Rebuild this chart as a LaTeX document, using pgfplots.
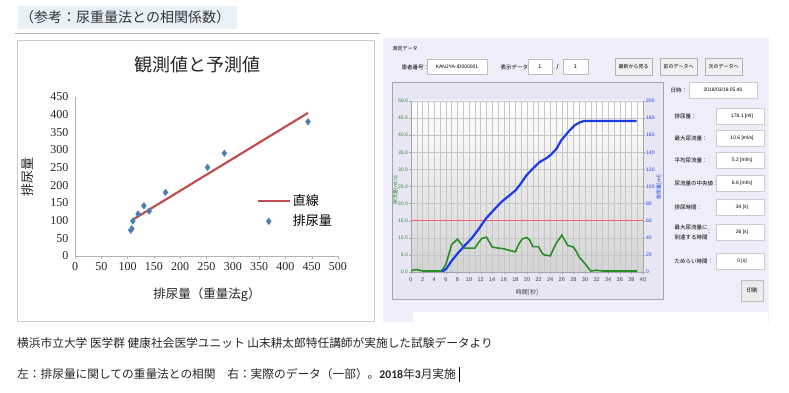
\documentclass[border=0pt]{standalone}
\usepackage{pgfplots}
\pgfplotsset{compat=1.18}
\usepackage{fontspec}
\setmainfont{Liberation Serif}
\newfontfamily\jp{Noto Sans CJK JP}
\newfontfamily\lsans{Liberation Sans}
\newfontfamily\carl{Carlito}
\definecolor{scblue}{RGB}{74,126,187}
\definecolor{scred}{RGB}{192,80,77}
\definecolor{titlebg}{RGB}{233,241,248}
\definecolor{panelbg}{RGB}{237,238,250}
\definecolor{framebg}{RGB}{230,230,245}
\definecolor{flowgreen}{RGB}{40,140,40}
\definecolor{volblue}{RGB}{30,60,230}
\definecolor{limred}{RGB}{240,100,100}
\newcommand{\sm}{\jp\fontsize{5.5}{6}\selectfont}
\pgfplotsset{
  lineleg/.style={legend image code/.code={\draw[##1] (0pt,0pt) -- (32pt,0pt);}},
  markleg/.style={legend image code/.code={\draw[##1] plot coordinates {(11pt,0pt)};}}
}
\begin{document}
\begin{tikzpicture}[x=1pt,y=1pt]
\path[use as bounding box, fill=white] (0,0) rectangle (789,393);
% title
\fill[titlebg] (18,387) rectangle (237,364);
\node[anchor=west, font=\jp\fontsize{14}{14}\selectfont, inner sep=0, text=black!80] at (20,375.5) {（参考：尿重量法との相関係数）};
\draw[gray!60, line width=0.8pt] (15,360) -- (380,360);
\draw[gray!40, line width=0.8pt] (17,353) rectangle (374,72);
% left chart texts
\node[font=\jp\fontsize{18}{18}\selectfont, text=black!85] at (197,328) {観測値と予測値};
\node[font=\jp\fontsize{13}{13}\selectfont, rotate=90, text=black!85] at (28,216) {排尿量};
\node[font=\jp\fontsize{12.5}{12.5}\selectfont, text=black!85] at (207,98) {排尿量（重量法g）};
\begin{axis}[at={(75pt,137pt)}, anchor=south west, scale only axis, width=263pt, height=159pt,
  xmin=0, xmax=500, ymin=0, ymax=450,
  xtick={0,50,...,500}, ytick={0,50,...,450},
  axis x line*=bottom, axis y line*=left,
  axis line style={gray!60}, tick style={gray!60}, major tick length=3pt, tick align=outside,
  ytick style={draw=none},
  tick label style={font=\fontsize{12}{12}\selectfont, text=black!85},
  /pgf/number format/assume math mode=true,
  legend style={at={(0.69,0.40)}, anchor=north west, draw=none, fill=none,
    font=\jp\fontsize{13}{13}\selectfont, row sep=4pt, inner sep=0pt},
  legend cell align=left,
  clip=false]
\addplot[scred, line width=2.2pt, lineleg]
  coordinates {(110,103) (443,405)};
\addlegendentry{直線}
\addplot[only marks, mark=diamond*, mark size=3.3pt, color=scblue, markleg]
  coordinates {(106,73) (108,77) (110,99) (120,119) (131,142) (141,127) (172,180) (252,251) (284,291) (443,380)};
\addlegendentry{排尿量}
\end{axis}
% right panel
\fill[panelbg] (383,355) rectangle (769,71);
\node[anchor=west, font=\jp\fontsize{5}{5}\selectfont] at (389,344) {測定データ};
\node[anchor=west, font=\sm] at (398,326) {患者番号：};
\draw[gray!50, fill=white] (427,334) rectangle (487,319);
\node[font=\lsans\fontsize{5}{6}\selectfont] at (457,326.5) {KANJYA-ID000001};
\node[anchor=west, font=\sm] at (497,326) {表示データ：};
\draw[gray!50, fill=white] (528,334) rectangle (552,319);
\node[font=\lsans\fontsize{5.5}{6}\selectfont] at (540,326.5) {1};
\node[font=\lsans\fontsize{7}{7}\selectfont] at (557.5,326) {/};
\draw[gray!50, fill=white] (563,334) rectangle (588,319);
\node[font=\lsans\fontsize{5.5}{6}\selectfont] at (575.5,326.5) {1};
\draw[gray!60, fill=gray!12] (615,335) rectangle (652,318);
\node[font=\jp\fontsize{5}{5}\selectfont] at (633.5,326.5) {最新から見る};
\draw[gray!60, fill=gray!12] (660,335) rectangle (697,318);
\node[font=\jp\fontsize{5}{5}\selectfont] at (678.5,326.5) {前のデータへ};
\draw[gray!60, fill=gray!12] (705,335) rectangle (742,318);
\node[font=\jp\fontsize{5}{5}\selectfont] at (723.5,326.5) {次のデータへ};
\draw[gray!70, fill=framebg] (392,311) rectangle (663,94);
% value column
\node[anchor=west, font=\sm] at (667,303) {日時：};
\draw[gray!40, fill=white] (689,311) rectangle (757,295);
\node[font=\lsans\fontsize{5}{6}\selectfont] at (723,303) {2018/03/18 05:40};
\node[anchor=west, font=\sm] at (671,277) {排尿量：};
\draw[gray!40, fill=white] (716,285) rectangle (764,269);
\node[font=\lsans\fontsize{5}{6}\selectfont] at (742,277) {176.1 [ml]};
\node[anchor=west, font=\sm] at (671,255) {最大尿流量：};
\draw[gray!40, fill=white] (716,263) rectangle (764,247);
\node[font=\lsans\fontsize{5}{6}\selectfont] at (742,255) {10.6 [ml/s]};
\node[anchor=west, font=\sm] at (671,233) {平均尿流量：};
\draw[gray!40, fill=white] (716,241) rectangle (764,225);
\node[font=\lsans\fontsize{5}{6}\selectfont] at (742,233) {5.2 [ml/s]};
\node[anchor=west, font=\sm] at (671,210) {尿流量の中央値：};
\draw[gray!40, fill=white] (716,218) rectangle (764,202);
\node[font=\lsans\fontsize{5}{6}\selectfont] at (742,210) {6.6 [ml/s]};
\node[anchor=west, font=\sm] at (671,186) {排尿時間：};
\draw[gray!40, fill=white] (716,194) rectangle (764,178);
\node[font=\lsans\fontsize{5}{6}\selectfont] at (742,186) {34 [s]};
\node[anchor=west, font=\sm] at (671,166) {最大尿流量に};
\node[anchor=west, font=\sm] at (671,156) {到達する時間};
\node[font=\sm] at (709,161) {：};
\draw[gray!40, fill=white] (716,169) rectangle (764,153);
\node[font=\lsans\fontsize{5}{6}\selectfont] at (742,161) {26 [s]};
\node[anchor=west, font=\sm] at (671,132) {ためらい時間：};
\draw[gray!40, fill=white] (716,140) rectangle (764,124);
\node[font=\lsans\fontsize{5}{6}\selectfont] at (742,132) {0 [s]};
\draw[gray!50, fill=gray!15] (741,113) rectangle (763,92);
\node[font=\sm] at (752,102.5) {印刷};
\fill[white] (413,81) rectangle (768,71);
% right chart labels
\node[font=\jp\fontsize{5}{5}\selectfont, rotate=90, text=flowgreen] at (395.5,203) {尿流量[ml/s]};
\node[font=\jp\fontsize{5}{5}\selectfont, rotate=90, text=volblue] at (659,206) {排尿量[ml]};
\node[font=\jp\fontsize{6}{6}\selectfont, text=black!75] at (527,101) {時間[秒]};
\begin{axis}[at={(411pt,121pt)}, anchor=south west, scale only axis, width=232pt, height=171pt,
  xmin=0, xmax=40, ymin=0, ymax=50,
  xtick={0,2,...,40}, minor xtick={1,3,...,39}, ytick={0,5,...,50},
  grid=both, major grid style={gray!45, line width=0.4pt}, minor grid style={gray!45, line width=0.4pt},
  axis x line*=bottom, axis y line*=left, axis line style={gray!70, line width=0.5pt},
  tick style={gray!70}, major tick length=2pt, minor tick length=0pt, tick align=outside,
  xticklabel style={font=\lsans\fontsize{5.5}{6}\selectfont, text=black!75},
  yticklabel style={font=\lsans\fontsize{5}{6}\selectfont, text=flowgreen, inner sep=1pt,
    /pgf/number format/.cd, fixed, fixed zerofill, precision=1},
  /pgf/number format/assume math mode=true,
  axis background/.style={top color=white, middle color=black!4, bottom color=black!17}]
\addplot[limred, line width=1pt] coordinates {(0,15) (40,15)};
\addplot[flowgreen, line width=1.6pt] coordinates {(0,0.3)(0.5,0.6)(1,0.7)(1.5,0.5)(2,0.3)(5.3,0.3)(6,2.2)(6.5,5)(7,8)(8,9.6)(8.6,8.3)(9.2,7.0)(11,7.0)(11.6,8.5)(12.2,9.8)(13,10.2)(13.5,8.8)(14,7.3)(15,7.0)(16,6.8)(17,6.3)(18,5.9)(18.6,8.2)(19.2,9.7)(20,10.1)(20.5,9.2)(21,7.4)(22,7.4)(22.6,5.5)(23,5)(24,4.7)(24.5,6.5)(25,8.3)(26,10.8)(26.5,9.3)(27,7.8)(28,7.3)(28.5,6)(29,4.4)(30,2.4)(31,0.3)(32,0.5)(33,0.3)(39,0.3)};
\end{axis}
\begin{axis}[at={(411pt,121pt)}, anchor=south west, scale only axis, width=232pt, height=171pt,
  xmin=0, xmax=40, ymin=0, ymax=200,
  axis x line=none, axis y line*=right, ytick={0,20,...,200},
  axis line style={gray!70, line width=0.5pt},
  tick style={gray!70}, major tick length=2pt, tick align=outside,
  yticklabel style={font=\lsans\fontsize{5}{6}\selectfont, text=volblue, inner sep=1pt},
  /pgf/number format/assume math mode=true]
\addplot[volblue, line width=2.2pt] coordinates {(5.3,0)(6.1,3.9)(7,12.9)(8.1,22.2)(9.3,31.2)(10.4,39)(11.6,49.5)(12.9,62.4)(14.2,72)(15.6,82)(17,89.7)(18.1,96)(19.1,105)(19.9,113)(21.1,121.6)(22.2,128.7)(23.4,133.3)(24.2,137.6)(25.1,144.3)(25.9,154)(27.1,163.7)(28.2,171.5)(29.1,175)(29.8,176.6)(38.9,176.6)};
\end{axis}
% bottom text
\node[anchor=west, font=\jp\fontsize{11.7}{12}\selectfont, inner sep=0, text=black!85] at (17,50) {横浜市立大学 医学群 健康社会医学ユニット 山末耕太郎特任講師が実施した試験データより};
\node[anchor=west, font=\jp\fontsize{11.7}{12}\selectfont, inner sep=0, text=black!85] at (17,19) {左：排尿量に関しての重量法との相関　右：実際のデータ（一部）。{\carl\bfseries 2018}年{\carl\bfseries 3}月実施};
\draw[black, line width=0.6pt] (459,26) -- (459,11);
\end{tikzpicture}
\end{document}
